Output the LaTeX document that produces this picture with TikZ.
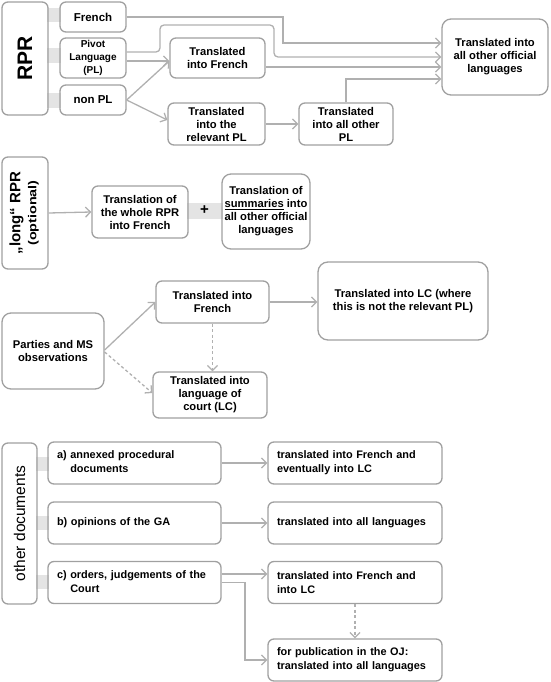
\documentclass[tikz,border=0pt]{standalone}
\usepackage{fontspec}
\setmainfont{Liberation Sans}
\usepackage{graphicx}
\usetikzlibrary{arrows.meta}
\definecolor{bordergray}{HTML}{A0A0A0}
\definecolor{linegray}{HTML}{B0B0B0}
\definecolor{bandgray}{HTML}{E4E4E4}
\begin{document}
\begin{tikzpicture}[x=1pt,y=-1pt,
  box/.style={draw=bordergray, line width=1.3pt, rounded corners=6pt, align=center, inner sep=1pt,
    font=\bfseries\fontsize{11.2}{13}\selectfont},
  smallbox/.style={box, font=\bfseries\fontsize{10}{13}\selectfont},
  lbox/.style={box, align=left, inner xsep=9pt, text width=#1, minimum height=42pt,
    font=\bfseries\fontsize{10.9}{13.8}\selectfont},
  arr/.style={draw=linegray, line width=1.3pt, -{Straight Barb[length=5pt,width=10pt]}},
  darr/.style={arr, dash pattern=on 3pt off 2.5pt},
  band/.style={fill=bandgray, draw=none}]
\useasboundingbox (0,0) rectangle (550,682);

% ---------- bands ----------
\fill[band] (47,8) rectangle (61,22);
\fill[band] (47,48) rectangle (61,63);
\fill[band] (47,93) rectangle (61,108);
\fill[band] (187,203) rectangle (223,219);
\fill[band] (36,457) rectangle (49,471);
\fill[band] (36,516) rectangle (49,530);
\fill[band] (36,575) rectangle (49,589);

% ---------- section 1: RPR ----------
\node[box, minimum width=46pt, minimum height=113pt] (rpr) at (25,58.5)
  {\rotatebox{90}{\fontsize{21}{21}\selectfont RPR}};
\node[box, minimum width=66pt, minimum height=30pt, font=\bfseries\fontsize{11.5}{13}\selectfont] (french) at (93,17) {French};
\node[smallbox, minimum width=66pt, minimum height=40pt] (pivot) at (93,58) {Pivot\\Language\\(PL)};
\node[box, minimum width=66pt, minimum height=30pt, font=\bfseries\fontsize{11.5}{13}\selectfont] (nonpl) at (93,100) {non PL};
\node[box, minimum width=95pt, minimum height=40pt] (trfr) at (217.5,58) {Translated\\into French};
\node[box, minimum width=97pt, minimum height=42pt] (trpl) at (216.5,124) {Translated\\into the\\relevant PL};
\node[box, minimum width=94pt, minimum height=42pt] (trallpl) at (346,124) {Translated\\into all other\\PL};
\node[box, minimum width=106pt, minimum height=76pt, rounded corners=9pt] (official) at (495,57)
  {Translated into\\all other official\\languages};

\coordinate (trfrin) at ([yshift=-3pt]trfr.west);
\draw[arr] (french.east) -- (283,17) -- (283,43) -- (official.west |- 0,43);
\draw[arr, rounded corners=4pt] ([yshift=6pt]pivot.east) -- (160,52) -- (160,25) -- (274,25) -- (274,57) -- (official.west |- 0,57);
\draw[arr] ([yshift=-3pt]pivot.east) -- (trfrin);
\draw[arr] (nonpl.east) -- (trfrin);
\draw[arr] (nonpl.east) -- ([yshift=4pt]trpl.west);
\draw[arr] ([yshift=-9pt]trfr.east) -- (official.west |- 0,67);
\draw[arr] (trpl.east) -- (trallpl.west);
\draw[arr] (trallpl.north) -- (346,79) -- (official.west |- 0,79);

% ---------- section 2: long RPR ----------
\node[box, minimum width=46pt, minimum height=112pt] (long) at (25,213)
  {\rotatebox{90}{\begin{tabular}{@{}c@{}}{\fontsize{15}{15}\selectfont „long“ RPR}\\[3pt]{\fontsize{11.5}{12}\selectfont \scalebox{1.25}[1]{(optional)}}\end{tabular}}};
\node[box, minimum width=96pt, minimum height=52pt] (whole) at (140,212) {Translation of\\the whole RPR\\into French};
\node[box, minimum width=88pt, minimum height=75pt, rounded corners=9pt] (summ) at (266,211.5)
  {Translation of\\\underline{summaries} into\\all other official\\languages};
\node[font=\bfseries\fontsize{15}{15}\selectfont, inner sep=0pt] (plus) at (204.5,210.5) {+};
\draw[arr] (long.east) -- (whole.west);

% ---------- section 3: observations ----------
\node[box, minimum width=102pt, minimum height=76pt, rounded corners=9pt] (parties) at (53,351) {Parties and MS\\observations};
\node[box, minimum width=113pt, minimum height=42pt] (s3fr) at (212.5,302) {Translated into\\French};
\node[box, minimum width=170pt, minimum height=78pt, rounded corners=10pt] (s3lcw) at (403,301)
  {Translated into LC (where\\this is not the relevant PL)};
\node[box, minimum width=114pt, minimum height=46pt] (s3lc) at (210,395) {Translated into\\language of\\court (LC)};
\draw[arr] ([yshift=1pt]parties.east) -- (s3fr.west);
\draw[darr] ([yshift=-1pt]parties.east) -- ([yshift=2pt]s3lc.west);
\draw[arr] (s3fr.east) -- (s3lcw.west |- s3fr.east);
\draw[darr] (s3fr.south) -- (s3lc.north -| s3fr.south);

% ---------- section 4: other documents ----------
\node[box, minimum width=35pt, minimum height=161pt] (other) at (19.5,523.5)
  {\rotatebox{90}{\mdseries\fontsize{15.5}{15.5}\selectfont other documents}};
\node[lbox=155pt] (a) at (134.5,463) {a) annexed procedural\\\phantom{a) }documents};
\node[lbox=155pt] (b) at (134.5,523) {b) opinions of the GA};
\node[lbox=155pt] (c) at (134.5,582.5) {c) orders, judgements of the\\\phantom{c) }Court};
\node[lbox=156pt] (ra) at (355,463) {translated into French and\\eventually into LC};
\node[lbox=156pt] (rb) at (355,523) {translated into all languages};
\node[lbox=156pt] (rc) at (355,582.5) {translated into French and\\into LC};
\node[lbox=156pt] (rd) at (355,660) {for publication in the OJ:\\translated into all languages};

\draw[arr] (a.east) -- (ra.west);
\draw[arr] (b.east) -- (rb.west);
\draw[arr] ([yshift=8.5pt]c.east) -- ([yshift=8.5pt]rc.west);
\draw[arr] (c.east) -- (245,582.5) -- (245,660) -- (rd.west);
\draw[darr] (rc.south) -- (rd.north);
\end{tikzpicture}
\end{document}
